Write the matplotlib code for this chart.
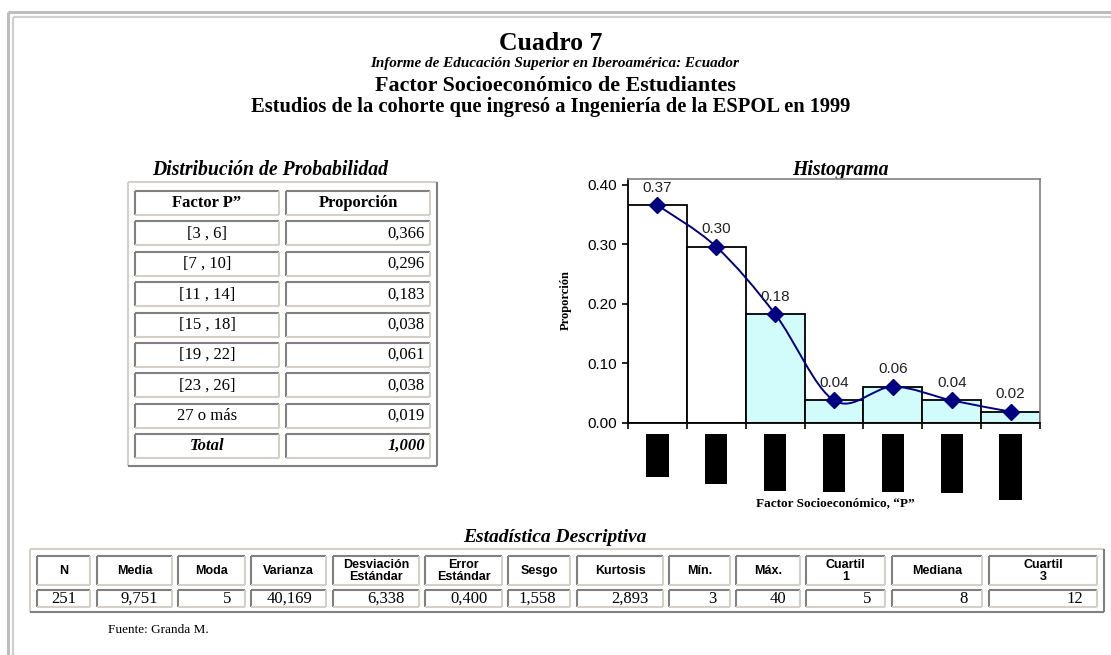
import numpy as np
import matplotlib.pyplot as plt
from matplotlib.path import Path
from matplotlib.patches import PathPatch

SERIF = 'Liberation Serif'
SANS = 'Liberation Sans'

# --- datos ---
clases = ['[3 , 6]', '[7 , 10]', '[11 , 14]', '[15 , 18]', '[19 , 22]', '[23 , 26]', '27 o más']
proporcion = [0.366, 0.296, 0.183, 0.038, 0.061, 0.038, 0.019]
total = 1.000

stat_names = ['N', 'Media', 'Moda', 'Varianza', 'Desviación\nEstándar', 'Error\nEstándar',
              'Sesgo', 'Kurtosis', 'Mín.', 'Máx.', 'Cuartil\n1', 'Mediana', 'Cuartil\n3']
stat_values = ['251', '9,751', '5', '40,169', '6,338', '0,400', '1,558', '2,893',
               '3', '40', '5', '8', '12']

DARK = '#808080'
LIGHT = '#d4d0c8'
NAVY = '#000080'
CYAN = '#d2fbfb'


def coma(v):
    return f'{v:.3f}'.replace('.', ',')


fig = plt.figure(figsize=(11.11, 6.55), dpi=100)
bg = fig.add_axes([0, 0, 1, 1])
bg.set_xlim(0, 1111)
bg.set_ylim(655, 0)
bg.axis('off')


def line(x, y, c, lw=1.5):
    bg.plot(x, y, color=c, lw=lw, solid_capstyle='butt')


def cell(x0, y0, x1, y1, raised=False):
    a, b = (LIGHT, DARK) if raised else (DARK, LIGHT)
    line([x0, x1], [y0, y0], a)
    line([x0, x0], [y0, y1], a)
    line([x0, x1], [y1, y1], b)
    line([x1, x1], [y0, y1], b)


# marco de la pagina
line([7.5, 1111], [11.5, 11.5], '#bdbdbd', 2.2)
line([7.5, 7.5], [11.5, 655], '#bdbdbd', 2.2)
line([12.5, 1111], [17, 17], '#cfcfcf', 1.6)
line([12.5, 12.5], [17, 655], '#cfcfcf', 1.6)

# titulos
bg.text(551, 43, 'Cuadro 7', family=SERIF, weight='bold', size=18.5, ha='center', va='center')
bg.text(555, 64, 'Informe de Educación Superior en Iberoamérica: Ecuador', family=SERIF,
        weight='bold', style='italic', size=10.9, ha='center', va='center')
bg.text(555, 86, 'Factor Socioeconómico de Estudiantes', family=SERIF, weight='bold',
        size=15.8, ha='center', va='center')
bg.text(551, 107, 'Estudios de la cohorte que ingresó a Ingeniería de la ESPOL en 1999',
        family=SERIF, weight='bold', size=14.8, ha='center', va='center')

# tabla de distribucion
bg.text(270, 170, 'Distribución de Probabilidad', family=SERIF, weight='bold',
        style='italic', size=14.2, ha='center', va='center')
cell(128, 182, 437, 466, raised=True)
c1 = (135, 279)
c2 = (286, 430)
filas = [('Factor P”', 'Proporción')] + [(c, coma(p)) for c, p in zip(clases, proporcion)] \
    + [('Total', coma(total))]
for i, (a, b) in enumerate(filas):
    yc = 203 + 30.4 * i
    cell(c1[0], yc - 12, c1[1], yc + 12)
    cell(c2[0], yc - 12, c2[1], yc + 12)
    if i == 0:
        bg.text(sum(c1) / 2, yc, a, family=SERIF, size=12, weight='bold', ha='center', va='center')
        bg.text(sum(c2) / 2, yc, b, family=SERIF, size=12, weight='bold', ha='center', va='center')
        continue
    kw = dict(weight='bold', style='italic') if i == len(filas) - 1 else {}
    bg.text(sum(c1) / 2, yc, a, family=SERIF, size=12, ha='center', va='center', **kw)
    bg.text(c2[1] - 5, yc, b, family=SERIF, size=12, ha='right', va='center', **kw)

# histograma
L, R, T, B = 628, 1040, 179, 423
ax = fig.add_axes([L / 1111, 1 - B / 655, (R - L) / 1111, (B - T) / 655])
x = np.arange(len(proporcion)) + 0.5
colores = ['white', 'white'] + [CYAN] * (len(proporcion) - 2)
ax.bar(x, proporcion, width=1.0, color=colores, edgecolor='black', linewidth=1.3, zorder=2)


def suave(xs, ys):
    p = np.column_stack([xs, ys])
    n = len(p)
    verts, codes = [p[0]], [Path.MOVETO]
    for i in range(n - 1):
        p0, p1, p2, p3 = p[max(i - 1, 0)], p[i], p[i + 1], p[min(i + 2, n - 1)]
        verts += [p1 + (p2 - p0) / 6, p2 - (p3 - p1) / 6, p2]
        codes += [Path.CURVE4] * 3
    return Path(verts, codes)


ax.add_patch(PathPatch(suave(x, proporcion), fc='none', ec=NAVY, lw=1.4, zorder=3))
ax.plot(x, proporcion, 'D', color=NAVY, ms=8, zorder=4)
for xi, p in zip(x, proporcion):
    ax.annotate(f'{p:.2f}', (xi, p), xytext=(0, 12.5), textcoords='offset points',
                ha='center', va='center', family=SANS, size=11, color='#222222')
for xi, c in zip(x, clases):
    ax.annotate(c, (xi, 0), xytext=(0, -15), textcoords='offset pixels', rotation=90,
                ha='center', va='top', family=SANS, size=10, color='black',
                bbox=dict(boxstyle='square,pad=0.3', fc='black', ec='none'),
                annotation_clip=False)

ax.set_xlim(0, len(proporcion))
ax.set_ylim(0, 0.41)
ax.set_yticks([0, 0.1, 0.2, 0.3, 0.4])
ax.set_yticklabels([f'{v:.2f}' for v in [0, 0.1, 0.2, 0.3, 0.4]], family=SANS, size=11)
ax.set_xticks(np.arange(len(proporcion) + 1))
ax.set_xticklabels([])
ax.tick_params(direction='out', length=4, width=1.2, colors='black', pad=4)
for s in ['left', 'bottom']:
    ax.spines[s].set_color('black')
    ax.spines[s].set_linewidth(1.3)
for s in ['top', 'right']:
    ax.spines[s].set_color(DARK)
    ax.spines[s].set_linewidth(1.2)

bg.text(840, 170, 'Histograma', family=SERIF, weight='bold', style='italic', size=14.2,
        ha='center', va='center')
bg.text(566, 300, 'Proporción', family=SERIF, weight='bold', size=9, rotation=90,
        ha='center', va='center')
bg.text(835, 503, 'Factor Socioeconómico, “P”', family=SERIF, weight='bold', size=9.5,
        ha='center', va='center')

# estadistica descriptiva
bg.text(555, 538, 'Estadística Descriptiva', family=SERIF, weight='bold', style='italic',
        size=14, ha='center', va='center')
cols = [(37, 90), (97, 172), (178, 245), (251, 326), (333, 419), (425, 502), (508, 570),
        (577, 663), (669, 730), (736, 800), (806, 885), (892, 982), (989, 1097)]
cell(30, 549, 1104, 612, raised=True)
for (x0, x1), nom, val in zip(cols, stat_names, stat_values):
    cell(x0, 556, x1, 585)
    cell(x0, 590, x1, 607)
    bg.text((x0 + x1) / 2, 571, nom, family=SANS, weight='bold', size=9, ha='center',
            va='center', linespacing=1.0)
    bg.text(x1 - 14, 599, val, family=SERIF, size=12, ha='right', va='center')

bg.text(108, 630, 'Fuente: Granda M.', family=SERIF, size=9.5, ha='left', va='center')

fig.savefig('out.png', dpi=100)
